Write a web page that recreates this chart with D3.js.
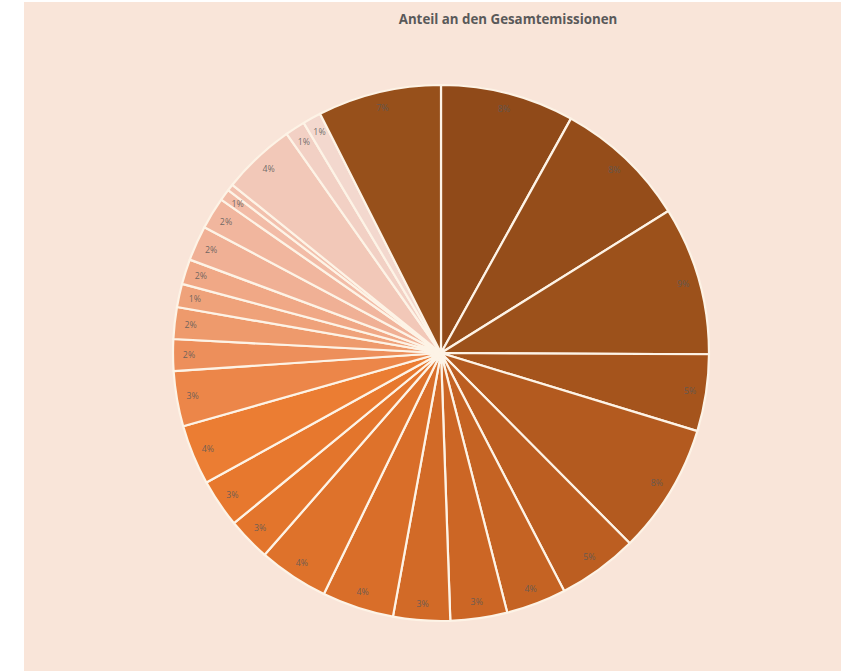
<!DOCTYPE html>
<html><head><meta charset="utf-8">
<script src="https://cdn.jsdelivr.net/npm/d3@7"></script>
<style>html,body{margin:0;padding:0;background:#fff;}svg{display:block;}</style>
</head><body>
<svg id="chart" width="846" height="671"></svg>
<script>
// Data (clockwise from 12 o'clock), share of total emissions in %
const categories = ["S1","S2","S3","S4","S5","S6","S7","S8","S9","S10","S11","S12","S13","S14","S15","S16","S17","S18","S19","S20","S21","S22","S23","S24","S25","S26","S27"];
const values = [8.0, 8.0, 8.9, 4.6, 7.8, 4.8, 3.6, 3.4, 3.4, 4.3, 4.2, 2.6, 2.9, 3.6, 3.3, 1.9, 1.9, 1.4, 1.5, 2.1, 1.9, 0.7, 0.4, 4.4, 1.2, 1.1, 7.4];
const labels = ["8%","8%","9%","5%","8%","5%","4%","3%","3%","4%","4%","3%","3%","4%","3%","2%","2%","1%","2%","2%","2%","1%","","4%","1%","1%","7%"];
const title = "Anteil an den Gesamtemissionen";

const colors = ["#904A19","#954D1A","#9C511B","#A5541C","#B35A1F","#BC5E21","#C56323","#CC6625","#D26A27","#D96E29","#DE722B","#E3752C","#E7782E","#EB7D33","#EC8649","#ED8F5B","#EE9A6C","#EFA27A","#F0A886","#F0B095","#F1B69E","#F2BCA7","#F2C0AD","#F2C8B8","#F2D0C4","#F3D8CE","#97501B"];

const svg = d3.select("#chart");
svg.append("rect").attr("x",24).attr("y",2).attr("width",817).attr("height",669).attr("fill","#F9E5D9");

svg.append("text").attr("x",508).attr("y",24).attr("text-anchor","middle")
  .attr("font-family","'Open Sans', sans-serif").attr("font-weight","bold").attr("font-size",13.3)
  .attr("fill","#595959").text(title);

const cx = 441, cy = 353, R = 268;
const data = categories.map((c,i)=>({cat:c, value:values[i], label:labels[i], color:colors[i]}));
const pie = d3.pie().value(d=>d.value).sort(null);
const arc = d3.arc().innerRadius(0).outerRadius(R);
const labelArc = d3.arc().innerRadius(252).outerRadius(252);
const g = svg.append("g").attr("transform",`translate(${cx},${cy})`);
const arcs = pie(data);
g.selectAll("path").data(arcs).join("path")
  .attr("d",arc).attr("fill",d=>d.data.color)
  .attr("stroke","#FDF3E6").attr("stroke-width",2.2).attr("stroke-linejoin","round");
g.selectAll("text").data(arcs).join("text")
  .attr("transform",d=>`translate(${labelArc.centroid(d)})`)
  .attr("text-anchor","middle").attr("dominant-baseline","central")
  .attr("font-family","'Open Sans', sans-serif").attr("font-size",8.8)
  .attr("fill","#595959").attr("fill-opacity",0.85)
  .text(d=>d.data.label);
</script>
</body></html>
